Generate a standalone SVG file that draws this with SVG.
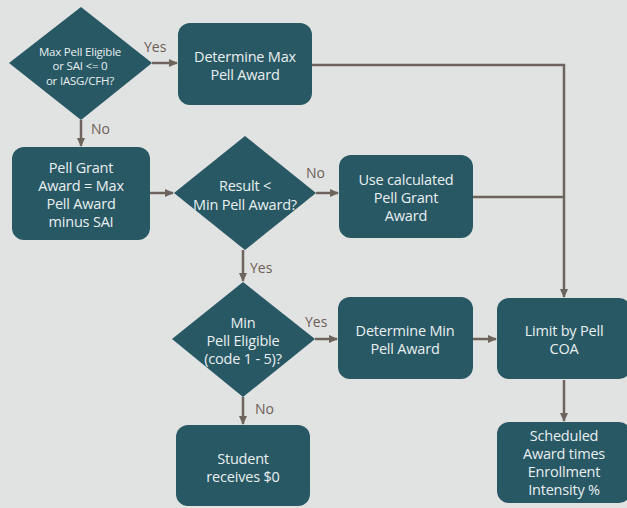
<svg xmlns="http://www.w3.org/2000/svg" width="627" height="508" viewBox="0 0 627 508">
<defs>
<marker id="arr" markerUnits="userSpaceOnUse" markerWidth="9" markerHeight="8" refX="8" refY="4" orient="auto">
<path d="M0,0 L9,4 L0,8 Z" fill="#6e645e"/>
</marker>
<style>
.n{fill:#285864;}
.t{fill:#e8eff0;font-family:"Open Sans","Noto Sans",sans-serif;font-size:14.5px;text-anchor:middle;dominant-baseline:central;letter-spacing:-0.2px;}
.ts{font-size:11.5px;}
.c{stroke:#6e645e;stroke-width:2.5;fill:none;}
.l{fill:#6e5e55;font-family:"Open Sans","Noto Sans",sans-serif;font-size:14px;dominant-baseline:central;}
</style>
</defs>
<rect width="627" height="508" fill="#e1e3e2"/>
<g id="connectors">
<line class="c" x1="152" y1="63" x2="177" y2="63" marker-end="url(#arr)"/>
<line class="c" x1="81" y1="120" x2="81" y2="146" marker-end="url(#arr)"/>
<line class="c" x1="150" y1="193" x2="173" y2="193" marker-end="url(#arr)"/>
<line class="c" x1="316" y1="193" x2="338" y2="193" marker-end="url(#arr)"/>
<polyline class="c" points="312,65 564,65 564,297" marker-end="url(#arr)"/>
<line class="c" x1="473" y1="197" x2="564" y2="197"/>
<line class="c" x1="243" y1="250" x2="243" y2="281" marker-end="url(#arr)"/>
<line class="c" x1="315" y1="339" x2="337" y2="339" marker-end="url(#arr)"/>
<line class="c" x1="473" y1="339" x2="496" y2="339" marker-end="url(#arr)"/>
<line class="c" x1="243" y1="397" x2="243" y2="424" marker-end="url(#arr)"/>
<line class="c" x1="564" y1="380" x2="564" y2="421" marker-end="url(#arr)"/>
<text class="l" x="144" y="46">Yes</text>
<text class="l" x="91" y="128">No</text>
<text class="l" x="306" y="172">No</text>
<text class="l" x="250" y="267">Yes</text>
<text class="l" x="305" y="321">Yes</text>
<text class="l" x="255" y="408">No</text>
</g>
<g id="d1">
<polygon class="n" points="81,7 152,63 81,120 9,63"/>
<text class="t ts" x="80" y="51">Max Pell Eligible</text>
<text class="t ts" x="80" y="65">or SAI &lt;= 0</text>
<text class="t ts" x="80" y="80">or IASG/CFH?</text>
</g>
<g id="maxaward">
<rect class="n" x="178" y="23" width="134" height="82" rx="12"/>
<text class="t" x="245" y="56">Determine Max</text>
<text class="t" x="245" y="74">Pell Award</text>
</g>
<g id="pellgrant">
<rect class="n" x="12" y="147" width="138" height="93" rx="12"/>
<text class="t" x="81" y="167">Pell Grant</text>
<text class="t" x="81" y="185">Award = Max</text>
<text class="t" x="81" y="203">Pell Award</text>
<text class="t" x="81" y="221">minus SAI</text>
</g>
<g id="d2">
<polygon class="n" points="245,136 316,193 245,250 174,193"/>
<text class="t" x="245" y="185">Result &lt;</text>
<text class="t" x="245" y="204">Min Pell Award?</text>
</g>
<g id="usecalc">
<rect class="n" x="339" y="155" width="134" height="83" rx="12"/>
<text class="t" x="406" y="179">Use calculated</text>
<text class="t" x="406" y="197">Pell Grant</text>
<text class="t" x="406" y="215">Award</text>
</g>
<g id="d3">
<polygon class="n" points="243,282 315,339 243,397 172,339"/>
<text class="t" x="243" y="322">Min</text>
<text class="t" x="243" y="340">Pell Eligible</text>
<text class="t" x="243" y="358">(code 1 - 5)?</text>
</g>
<g id="minaward">
<rect class="n" x="338" y="297" width="135" height="82" rx="12"/>
<text class="t" x="405" y="330">Determine Min</text>
<text class="t" x="405" y="348">Pell Award</text>
</g>
<g id="limit">
<rect class="n" x="497" y="298" width="134" height="81" rx="12"/>
<text class="t" x="564" y="330">Limit by Pell</text>
<text class="t" x="564" y="348">COA</text>
</g>
<g id="scheduled">
<rect class="n" x="497" y="422" width="134" height="81" rx="12"/>
<text class="t" x="564" y="435">Scheduled</text>
<text class="t" x="564" y="453">Award times</text>
<text class="t" x="564" y="471">Enrollment</text>
<text class="t" x="564" y="489">Intensity %</text>
</g>
<g id="student">
<rect class="n" x="176" y="425" width="134" height="81" rx="12"/>
<text class="t" x="243" y="458">Student</text>
<text class="t" x="243" y="476">receives $0</text>
</g>
</svg>
